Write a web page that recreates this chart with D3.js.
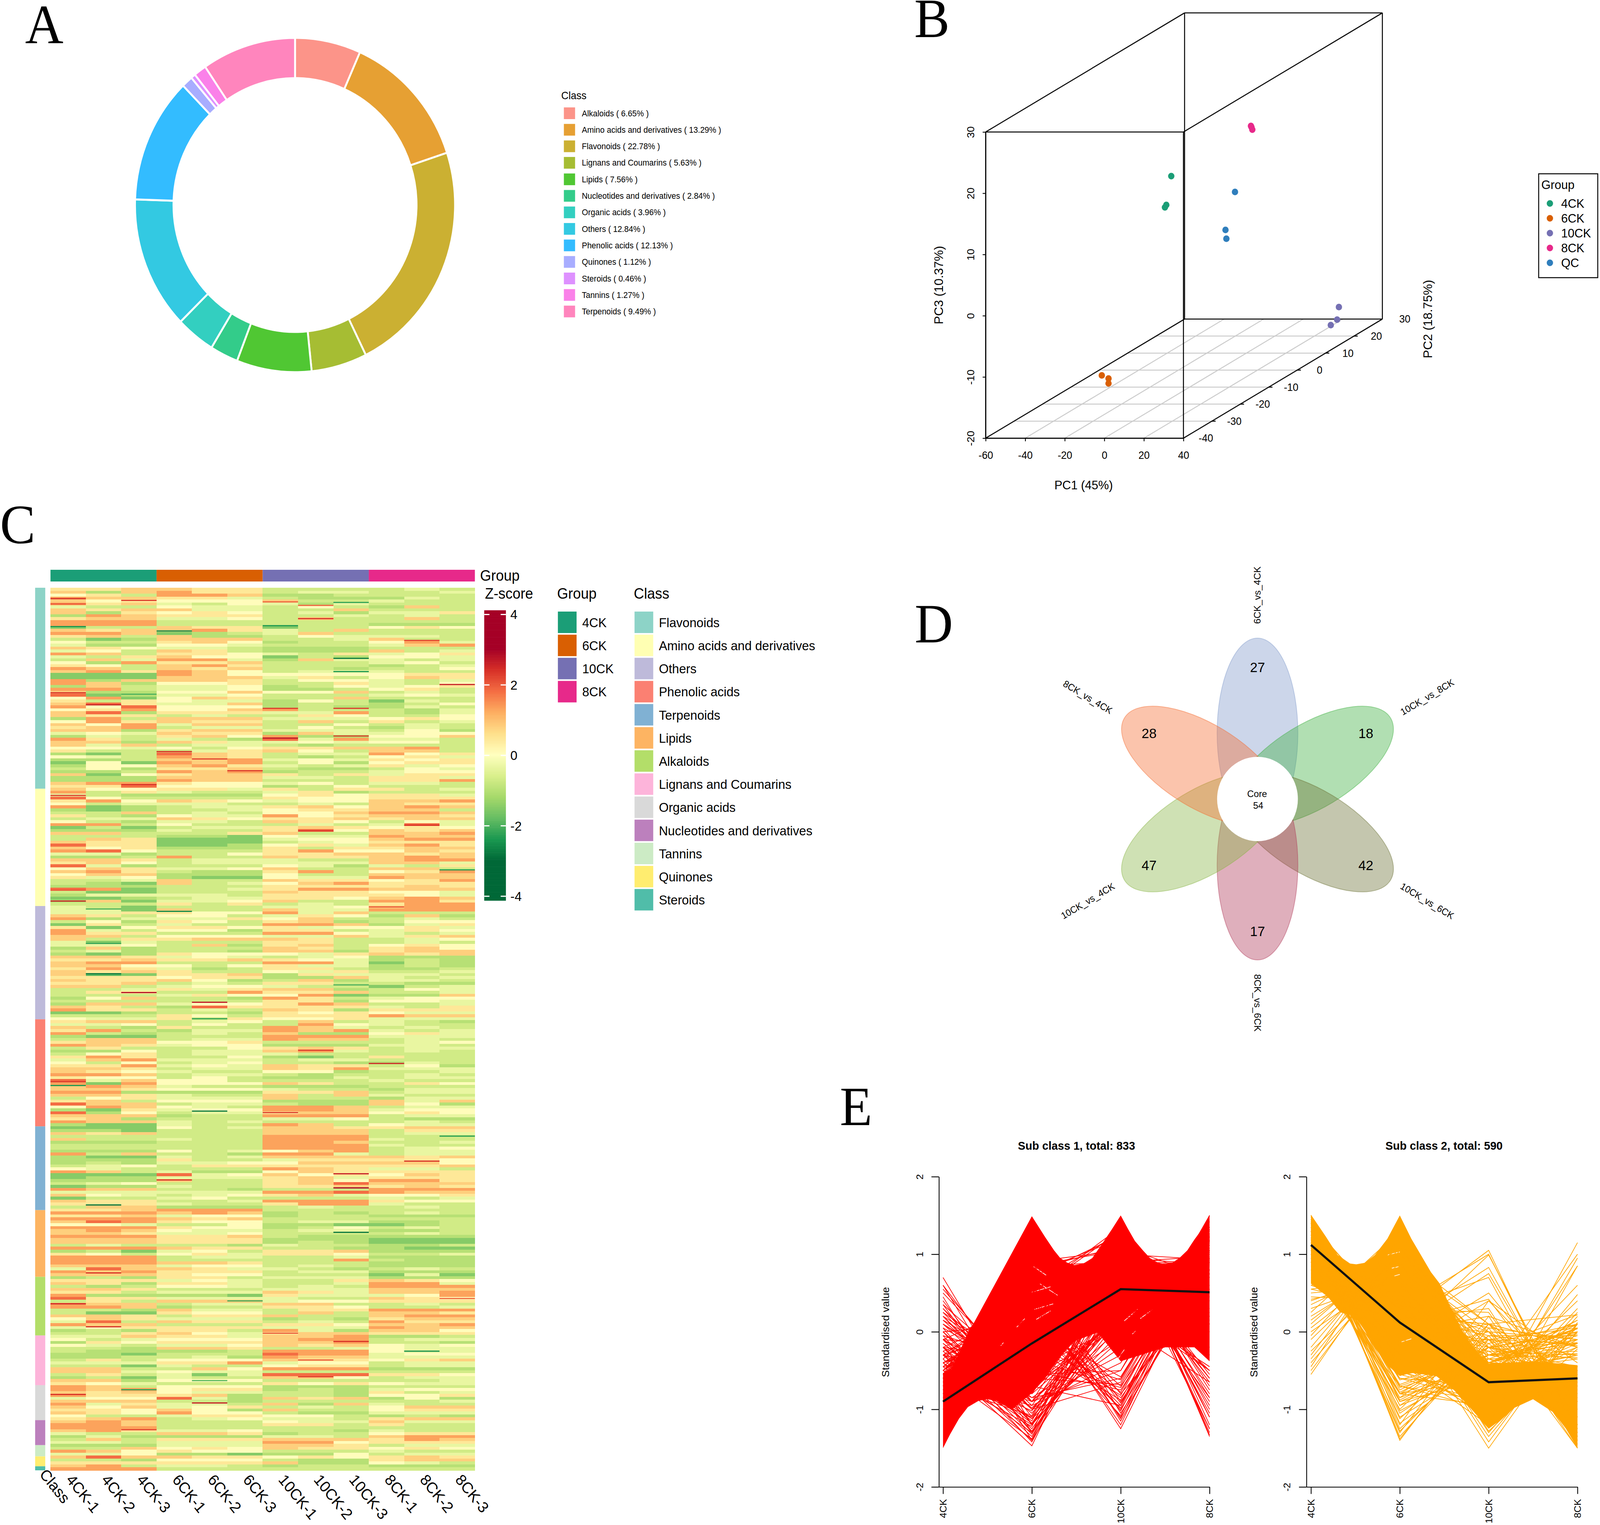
<!DOCTYPE html>
<html>
<head>
<meta charset="utf-8">
<script src="https://d3js.org/d3.v7.min.js"></script>
<style>
  html, body { margin: 0; padding: 0; background: #fff; overflow: hidden; }
  svg { display: block; width: 100vw; height: 100vh; }
  text { font-family: "Liberation Sans", Arial, sans-serif; fill: #000; }
  .panel { font-family: "Liberation Serif", serif; font-size: 142px; }
</style>
</head>
<body>
<svg id="fig" viewBox="0 0 4279 3905" preserveAspectRatio="none"></svg>
<script>
// panel A
var classNames = ["Alkaloids", "Amino acids and derivatives", "Flavonoids", "Lignans and Coumarins", "Lipids", "Nucleotides and derivatives", "Organic acids", "Others", "Phenolic acids", "Quinones", "Steroids", "Tannins", "Terpenoids"];
var classPct = [6.65, 13.29, 22.78, 5.63, 7.56, 2.84, 3.96, 12.84, 12.13, 1.12, 0.46, 1.27, 9.49];
var donutColors = ["#FC9489", "#E6A033", "#CBB032", "#A6BD33", "#50C733", "#33CC8A", "#33CFC0", "#33C9E2", "#33BCFF", "#A8ADFF", "#DE91FF", "#FA81E9", "#FF85BD"];

// panel B
var groupNames = ["4CK", "6CK", "10CK", "8CK"];
var groupColors = ["#1B9E77", "#D95F02", "#7570B3", "#E7298A"];
var pcaGroups = ["4CK", "6CK", "10CK", "8CK", "QC"];
var pcaColors = ["#1B9E77", "#D95F02", "#7570B3", "#E7298A", "#2F7EBC"];
var pcaPoints = [
  ["4CK", -38.0, 10, 8.9], ["4CK", -40.5, 10, 4.2], ["4CK", -41.2, 10, 3.8],
  ["6CK", -37.2, -15, -16.7], ["6CK", -33.8, -15, -17.2], ["6CK", -33.8, -15, -18.0],
  ["10CK", 25.2, 25, -16.65], ["10CK", 24.3, 25, -18.7], ["10CK", 21.1, 25, -19.6],
  ["8CK", -4.9, 15, 15.7], ["8CK", -4.6, 15, 15.5], ["8CK", -4.2, 15, 15.1],
  ["QC", 1.4, 5, 7.7], ["QC", -3.4, 5, 1.5], ["QC", -2.95, 5, 0.07]
];
var pc1Ticks = [-60, -40, -20, 0, 20, 40];
var pc2Ticks = [-40, -30, -20, -10, 0, 10, 20, 30];
var pc3Ticks = [-20, -10, 0, 10, 20, 30];

// panel C
var sampleNames = ["4CK-1", "4CK-2", "4CK-3", "6CK-1", "6CK-2", "6CK-3", "10CK-1", "10CK-2", "10CK-3", "8CK-1", "8CK-2", "8CK-3"];
var heatClasses = ["Flavonoids", "Amino acids and derivatives", "Others", "Phenolic acids", "Terpenoids", "Lipids", "Alkaloids", "Lignans and Coumarins", "Organic acids", "Nucleotides and derivatives", "Tannins", "Quinones", "Steroids"];
var heatClassColors = ["#8DD3C7", "#FFFFB3", "#BEBADA", "#FB8072", "#80B1D3", "#FDB462", "#B3DE69", "#FDB4DA", "#D9D9D9", "#BC80BD", "#CCEBC5", "#FFED6F", "#50BDA9"];
var zTicks = [4, 2, 0, -2, -4];
var zStops = [-3, -2.4, -1.8, -1.2, -0.6, 0, 0.6, 1.2, 1.8, 2.4, 3];
var zColors = ["#006837", "#1A9850", "#66BD63", "#A6D96A", "#D9EF8B", "#FFFFBF", "#FEE08B", "#FDAE61", "#F46D43", "#D73027", "#A50026"];
// one digit per cell, looked up in zLevels; bands
var zLevels = [-1.9, -1.5, -1.0, -0.7, -0.35, 0.05, 0.45, 0.8, 1.3, 1.8];
var heatRows = [
"667 766 333 343","727 866 344 334","563 887 223 333","877 664 322 243","756 555 733 433","867 435 424 333","433 544 353 273","767 744 337 333","726 565 342 446","287 666 334 343",
"677 445 373 373","888 333 333 333","888 333 333 222","133 766 133 565","767 786 437 333","887 123 473 333","673 722 354 443","312 777 334 733","533 675 233 584","422 554 333 478",
"765 443 222 333","453 763 222 734","873 665 436 456","436 755 132 554","374 884 274 434","528 667 333 453","653 786 333 234","873 767 332 335","786 875 344 433","111 875 555 566",
"111 777 463 576","827 776 355 434","872 556 336 435","273 445 235 456","883 445 223 563","722 557 557 343","912 445 333 454","581 576 337 333","636 544 253 143","796 447 233 235",
"859 555 232 243","568 557 833 324","792 666 448 324","766 343 365 335","283 777 444 565","586 766 373 634","758 477 335 343","678 344 353 243","772 677 444 352","454 766 274 455",
"243 675 822 557","863 432 948 443","772 764 454 553","747 344 323 333","554 535 667 783","633 346 753 773","213 976 344 856","543 876 323 564","223 778 454 656","151 878 352 566",
"255 786 434 645","352 667 322 354","223 878 233 455","715 677 636 466","222 777 443 664","222 877 333 668","788 655 453 443","669 555 235 333","755 664 636 634","836 433 462 333",
"432 222 565 664","953 333 655 666","685 765 455 778","534 443 343 766","812 344 675 787",
"212 334 566 773","337 343 557 887","632 544 856 776","344 765 667 677","532 443 765 354","883 533 343 494","131 344 676 565","222 433 695 767","773 336 733 778","333 221 544 877",
"376 111 455 788","766 111 345 666","966 112 564 786","756 222 636 677","895 333 685 576","442 335 667 767","223 833 766 787","776 344 433 788","675 344 444 774","942 333 542 436",
"576 445 733 773","786 322 683 568","577 222 533 777","645 211 544 877","334 733 766 568","321 734 578 666","222 333 666 676","981 334 688 777","311 333 766 554","244 443 666 654",
"112 344 665 787","271 445 733 886","333 636 343 688","431 333 445 788","441 733 744 888","446 655 847 333","763 553 465 272","824 446 573 343","352 653 672 355","163 433 887 246",
"615 665 645 564","843 552 663 465","866 333 885 434","773 555 447 467","736 677 763 345","414 333 663 343","445 372 673 565","272 333 763 675","342 332 772 677","212 655 546 767",
"776 454 345 222","667 667 654 232","788 333 884 132","775 535 644 232","686 423 663 223","767 633 546 334","701 667 264 443","666 566 227 434","766 752 372 443","667 343 663 322",
"773 455 433 134","334 646 772 354","366 338 667 334","333 465 581 227","257 332 863 455","333 333 662 554","277 455 687 334","763 296 666 436","866 343 762 666","112 332 656 544",
"333 653 666 877","544 636 556 444","677 345 373 432","445 353 385 433","732 633 874 343",
"683 244 878 434","832 343 722 564","211 333 888 444","377 344 877 343","677 556 333 345","876 455 222 443","363 335 676 344","225 344 784 343","356 344 433 333","686 335 213 633",
"478 444 344 333","535 345 332 243","668 454 766 352","776 344 768 444","765 433 552 334","887 344 323 343","655 353 224 344","947 553 333 433","818 555 763 365","787 433 222 333",
"776 555 433 244","882 222 667 344","776 433 737 433","356 444 733 244","673 555 222 747","977 344 322 752","587 543 887 344","216 455 887 455","925 344 677 565","777 233 888 344",
"672 333 445 322","877 434 333 343","211 433 873 544","111 534 776 677","221 333 777 366","767 333 777 344","333 333 888 333","733 433 888 433","222 333 887 334","333 333 888 433",
"333 333 888 345","222 534 578 344","837 332 884 344","211 434 777 767","222 633 466 665","232 445 577 775","345 366 666 667","543 333 876 443","873 422 576 666","111 945 756 576",
"122 444 674 666","222 733 675 886","345 333 679 777","122 433 667 676","877 332 333 888","444 444 889 877","754 345 674 556","133 453 333 434","766 334 888 655","666 433 688 433",
"377 222 343 343","667 888 333 333","888 787 232 343","667 455 233 222","888 767 333 333","798 655 344 223","554 335 221 123","888 655 235 343","787 544 344 223","776 445 333 343",
"888 667 322 222","777 666 222 111","777 666 232 111","343 332 433 223","888 766 332 211",
"231 453 667 222","653 564 665 334","888 344 334 222","888 333 338 322","888 776 333 222","777 455 343 222","497 764 432 343","878 666 344 222","777 655 333 141","232 663 444 222",
"666 454 336 765","762 664 334 884","323 554 343 888","776 333 444 777","663 444 764 778","822 221 644 458","966 444 433 765","363 777 455 666","877 344 773 343","887 233 665 334",
"332 744 366 888","311 655 373 776","776 366 733 788","576 444 232 677","493 766 343 866","877 333 665 778","456 666 444 877","232 663 842 775","336 754 677 666","447 664 778 223",
"534 555 788 344","265 666 778 332","543 445 767 545","332 776 334 544","322 223 888 544","221 333 988 455","223 342 877 444","363 555 766 567","444 668 455 344","331 433 566 344",
"773 375 888 222","774 544 333 333","363 414 999 665","231 433 775 344","772 555 333 334","654 333 656 544","873 555 222 333","878 566 232 455","767 544 332 634","866 672 332 556",
"455 942 767 252","777 332 333 334","846 443 727 433","757 456 343 577","665 752 733 566","765 855 322 444","533 466 553 232","678 345 443 677","787 333 544 744","887 333 663 633",
"888 333 333 333","786 445 332 433","433 776 233 566","242 222 443 788","373 666 777 687","443 444 885 666","222 444 776 344","337 565 766 565","875 655 333 433","445 221 225 344",
"797 766 565 676","332 555 322 677","666 666 722 543","783 443 233 222","888 333 333 333"
];
// thin dark stripes: [row position, sample number, z]
var heatStripes = [
  [3.5,1,2.4],[4.1,3,2.3],[5.3,1,2],[13,1,-2.4],[14.5,4,-2.6],[4.8,9,-2.2],[4.6,7,1.9],[5.8,8,1.9],[10.3,8,2.4],[23.8,9,-2.8],[12.7,7,-2.4],[39.6,2,2.6],[35.5,1,2.4],[36,3,-2],[40.8,7,2.3],[40.8,9,2.3],[50.9,7,2.8],[50.2,9,2.3],[66.7,3,2.4],[62,6,2.3],[70.4,1,2.3],[55.5,4,2.4],[58,5,2.2],[28.3,9,-2.4],[32.7,12,2.6],[17.7,11,2.2],
  [80.5,11,2.4],[82.4,8,2.3],[102.6,1,2],[106.3,1,2.6],[95.7,12,-2.3],[109,2,-2],[109.8,4,-2.6],[120.7,2,-2.2],[131,2,-2.8],[134.8,9,-2],[140.7,5,2.7],[146.3,5,-2.2],[137.4,3,2.8],[108.3,10,2],
  [203.8,9,3],[199,9,2.6],[201.1,4,2.4],[218.9,9,-2.8],[167.7,1,2.3],[169,1,-2.4],[177.7,5,-2.8],[209.6,2,-2.8],[186.2,12,-2.3],[178.2,7,2.3],[157,8,2.3],[194.7,11,2.4],[161.5,10,2.5],
  [232.7,2,2.4],[243.2,1,2.5],[251,2,2.4],[272.4,3,-2.2],[274,1,2.4],[269.3,5,-1.9],[268,8,2.2],[262.3,8,2],[253.2,7,2],[256,9,2.4],[276.9,5,2.6],[241.4,12,1.9],[286,3,2.2],[259.3,11,-2.5],[242.2,6,-2.1]
];

// panel D
var vennNames = ["6CK_vs_4CK", "10CK_vs_8CK", "10CK_vs_6CK", "8CK_vs_6CK", "10CK_vs_4CK", "8CK_vs_4CK"];
var vennCounts = [27, 18, 42, 17, 47, 28];
var vennColors = ["#7F98CA", "#3CAF3E", "#6B7034", "#AF3757", "#87B443", "#F56B2F"];
var vennCore = 54;

var trendGroups = ["4CK", "6CK", "10CK", "8CK"];
var sub1Mean = [-0.9, -0.15, 0.55, 0.51];
var sub2Mean = [1.12, 0.12, -0.65, -0.6];
var sub1Upper = [[0, -0.53], [0.09, -0.49], [0.18, -0.27], [0.3, 0.04], [0.34, 0.1], [1, 1.49], [1.15, 1.22], [1.25, 1.05], [1.32, 0.95], [1.4, 0.89], [1.48, 0.86], [1.58, 0.88], [1.68, 0.95], [1.8, 1.15], [1.9, 1.32], [2, 1.5], [2.08, 1.33], [2.16, 1.17], [2.25, 1.05], [2.33, 0.95], [2.42, 0.89], [2.5, 0.87], [2.58, 0.89], [2.66, 0.95], [2.75, 1.05], [2.83, 1.19], [2.92, 1.33], [3, 1.5]];
var sub1Lower = [[0, -1.5], [0.08, -1.32], [0.18, -1.12], [0.28, -0.97], [0.4, -0.89], [0.5, -0.87], [0.6, -0.89], [0.7, -0.95], [0.77, -1.01], [1, -0.79], [1.15, -0.6], [1.3, -0.35], [1.48, -0.12], [1.74, -0.01], [2, -0.38], [2.5, -0.2], [2.83, -0.2], [3, -0.38]];
var sub2Upper = [[0, 1.51], [0.166, 1.23], [0.3, 0.99], [0.44, 0.88], [0.51, 0.87], [0.61, 0.89], [0.72, 0.99], [0.86, 1.2], [1, 1.5], [1.13, 1.2], [1.35, 0.77], [1.45, 0.62], [1.57, 0.32], [1.69, 0.04], [1.85, -0.24], [2, -0.41], [2.51, -0.38], [3, -0.43]];
var sub2Lower = [[0, 0.62], [0.19, 0.45], [0.33, 0.25], [0.47, 0.21], [0.69, -0.16], [0.86, -0.43], [1, -0.57], [1.13, -0.53], [1.41, -0.57], [1.6, -0.74], [1.8, -0.99], [2, -1.25], [2.13, -1.14], [2.27, -0.99], [2.5, -0.87], [2.73, -1.04], [2.87, -1.25], [3, -1.5]];
// white gaps inside the solid mass: [from position, from value, to position, to value]
var sub1Gaps = [[1.02, 0.84, 1.16, 0.73], [1, 0.51, 1.21, 0.58], [1.03, 0.29, 1.24, 0.36], [1.05, 0.16, 1.21, 0.27], [1.09, 0.62, 1.29, 0.47], [0.65, -0.18, 0.68, -0.14], [0.83, 0.06, 0.92, 0.17], [2.04, 0.14, 2.19, 0.29], [2.22, 0.17, 2.36, 0.29], [2.13, -0.03, 2.17, 0.01], [1.95, -0.38, 2.04, -0.23]];
var sub2Gaps = [[0.64, -0.13, 0.86, -0.5], [0.94, 0.72, 1, 0.74], [0.86, 0.99, 1, 1.03], [0.91, 0.82, 0.99, 0.84], [1.02, -0.13, 1.13, -0.09], [0.52, 0.15, 0.68, -0.12]];
var sub1Lines = [
  [-0.4, -1.47, 0.9, 0.97], [-0.2, -1.42, 0.7, 0.92], [-0.3, -1.35, 0.6, 1.05], [-0.5, -1.3, 1.1, 0.7], [-0.1, -1.25, 0.4, 0.95], [-0.45, -1.2, 0.8, 0.85], [-0.25, -1.15, 0.95, 0.45], [-0.6, -1.1, 0.75, 0.95], [0.05, -1.3, 0.2, 1.05], [-0.15, -1.05, 0.3, 0.9], [0.35, -1.2, 0.1, 0.75], [0.2, -1.0, -0.2, 1.0], [0.1, -0.95, -0.4, 1.25],
  [-0.35, -1.4, 0.85, 0.9], [-0.55, -1.38, 1.0, 0.93], [-0.2, -1.32, 0.5, 1.0], [-0.05, -1.28, 0.3, 1.03], [-0.6, -1.22, 0.95, 0.87], [-0.3, -1.18, 0.55, 0.93], [-0.4, -1.12, 0.35, 1.17], [-0.7, -1.08, 0.9, 0.88], [-0.5, -1.02, 0.5, 1.02], [-0.15, -0.98, 0.05, 1.08], [-0.65, -0.95, 0.65, 0.95], [0.25, -0.9, -0.3, 0.95], [-0.3, -0.85, -0.1, 1.25], [-0.5, -0.9, 0.15, 1.25], [-0.2, -1.12, -0.1, 1.42], [0.0, -1.18, 0.0, 1.18],
  [-0.3, 0.5, -1.25, 1.05], [-0.5, 0.7, -1.15, 0.95], [-0.1, 0.4, -1.1, 0.8], [-0.6, 0.9, -1.05, 0.75], [-0.2, 0.3, -1.0, 0.9], [-0.4, 0.2, -0.95, 1.15], [-0.7, 0.8, -0.9, 0.8], [0.0, 0.1, -0.85, 0.75], [-0.35, 0.6, -0.8, 0.55], [-0.5, 0.3, -0.7, 0.9], [0.2, -0.5, -0.75, 1.05], [0.1, -0.7, -0.95, 1.5], [0.15, -0.85, -0.6, 1.3], [-0.1, -0.9, -0.5, 1.5], [0.3, -1.0, -0.65, 1.35],
  [-0.45, 0.45, -1.2, 1.2], [-0.65, 0.6, -1.12, 1.17], [-0.25, 0.15, -1.08, 1.18], [-0.55, 0.35, -1.02, 1.22], [-0.3, 0.05, -0.98, 1.23], [-0.75, 0.55, -0.92, 1.12], [-0.1, -0.2, -0.88, 1.18], [-0.4, -0.1, -0.82, 1.32], [-0.6, 0.15, -0.78, 1.23], [-0.2, -0.35, -0.72, 1.27], [0.05, -0.6, -0.68, 1.23], [-0.45, -0.25, -0.62, 1.32], [-0.7, 0.05, -0.58, 1.23], [-0.3, -0.55, -0.5, 1.35],
  [-0.5, 0.5, 1.35, -1.35], [-0.65, 0.7, 1.25, -1.3], [-0.7, 0.9, 1.05, -1.25], [-0.6, 0.5, 1.3, -1.2], [-0.8, 0.8, 1.1, -1.1], [-0.4, 0.3, 1.1, -1.0], [-0.75, 0.65, 1.0, -0.85], [-0.9, 0.85, 0.9, -0.8], [-0.6, 0.3, 1.0, -0.7], [-0.3, 0.1, 0.8, -0.6], [-0.7, 0.9, 0.3, -0.5], [-0.55, 1.1, 0.1, -0.65], [-1.0, 0.9, 0.6, -0.5],
  [-0.55, 0.6, 1.28, -1.33], [-0.7, 0.75, 1.2, -1.25], [-0.5, 0.4, 1.2, -1.1], [-0.85, 0.85, 1.05, -1.05], [-0.45, 0.45, 0.95, -0.95], [-0.6, 0.6, 0.9, -0.9], [-0.75, 0.9, 0.7, -0.85], [-0.5, 0.2, 1.05, -0.75], [-0.8, 0.6, 0.85, -0.65], [-0.4, 0.05, 0.9, -0.55], [-0.9, 1.0, 0.4, -0.5], [-0.6, 0.75, 0.3, -0.45],
  [0.7, -1.2, 0.3, 0.2], [0.6, -1.3, 0.5, 0.2], [0.6, -0.9, 0.9, -0.6], [0.5, -0.7, 0.1, 0.1], [0.4, -1.1, 0.2, 0.5], [0.3, -0.8, 0.2, 0.3], [0.2, -0.9, 0.3, 0.4], [0.1, -0.6, 0.4, 0.1], [0.0, -1.0, 0.3, 0.7], [-0.1, -0.7, 0.2, 0.6], [-0.2, -0.8, 0.9, 0.1], [-0.3, -0.6, 0.1, 0.8], [0.45, -1.4, 0.4, 0.55], [0.55, -0.75, 0.2, 0.0], [0.25, -0.55, 0.6, -0.3], [-0.05, -0.4, 0.3, 0.15], [0.15, -0.5, 0.1, 0.25], [0.35, -0.65, 0.5, -0.2]
];
var sub2Lines = [
  [-0.55, 1.1, -0.3, -0.25], [-0.45, 1.3, -0.5, -0.35], [-0.4, 0.9, 0.1, -0.6], [-0.3, 1.2, -0.4, -0.5], [-0.1, 1.0, -0.2, -0.7], [0.0, 0.8, -0.1, -0.7], [0.1, 1.1, -0.6, -0.6], [0.2, 0.9, -0.5, -0.6], [0.3, 0.7, -0.4, -0.6], [0.35, 0.9, -0.8, -0.45], [0.5, 0.6, -0.5, -0.6], [0.45, 0.4, -0.4, -0.45], [0.6, 0.2, -0.3, -0.5], [0.55, 0.7, -0.7, -0.55], [0.25, 1.3, -0.8, -0.75], [-0.5, 1.0, 0.1, -0.6],
  [-0.2, 1.15, -0.35, -0.6], [-0.35, 1.05, -0.2, -0.5], [-0.05, 1.2, -0.6, -0.55], [0.15, 1.0, -0.55, -0.6], [0.05, 0.95, -0.4, -0.6], [0.4, 0.8, -0.6, -0.6], [0.42, 0.65, -0.55, -0.52], [0.65, 0.5, -0.6, -0.55], [0.7, 0.35, -0.55, -0.5], [0.55, 0.3, -0.4, -0.45], [0.75, 0.65, -0.75, -0.65], [0.6, 0.9, -0.8, -0.7], [-0.25, 0.85, 0.0, -0.6],
  [1.5, -1.4, 0.1, -0.2], [1.4, -1.35, -0.1, 0.05], [1.3, -1.3, 0.2, -0.2], [1.45, -1.25, -0.2, 0.0], [1.2, -1.2, 0.4, -0.4], [1.35, -1.1, -0.4, 0.15], [1.25, -1.05, -0.3, 0.1], [1.1, -1.0, 0.1, -0.2], [1.3, -0.95, -0.5, 0.15], [1.45, -0.9, -0.4, -0.15], [1.2, -0.85, -0.4, 0.05], [1.05, -0.8, -0.1, -0.15], [1.15, -0.7, -0.3, -0.15], [1.3, -0.75, -0.2, -0.35],
  [1.42, -1.38, 0.05, -0.1], [1.33, -1.28, -0.15, 0.1], [1.48, -1.18, -0.35, 0.05], [1.22, -1.12, -0.05, -0.05], [1.38, -1.02, -0.4, 0.04], [1.18, -0.95, -0.2, -0.03], [1.28, -0.88, -0.3, -0.1], [1.08, -0.85, -0.05, -0.18], [1.12, -0.78, -0.2, -0.14], [1.35, -0.72, -0.35, -0.28], [1.22, -0.68, -0.25, -0.3], [1.25, -0.62, -0.3, -0.33],
  [1.1, 0.3, -1.5, 0.1], [0.9, 0.4, -1.42, 0.12], [1.0, 0.35, -1.35, 0.0], [0.8, 0.5, -1.3, 0.0], [1.05, 0.45, -1.28, -0.22],
  [1.1, 0.2, 1.05, -1.35], [1.0, 0.3, 1.0, -1.3], [1.2, -0.1, 0.99, -1.2], [1.15, 0.1, 0.83, -1.25], [1.2, 0.0, 0.75, -1.2], [0.95, 0.3, 0.7, -1.4], [1.25, -0.2, 0.5, -0.9], [1.2, 0.1, 0.42, -1.1], [1.3, -0.3, 0.4, -0.8], [1.2, 0.3, 0.25, -1.3], [1.1, 0.2, 0.1, -1.2], [1.25, -0.1, 0.1, -0.9], [1.3, 0.0, -0.1, -1.1], [1.1, 0.4, 0.0, -1.4], [1.0, 0.5, -0.1, -1.35], [1.2, 0.1, 0.0, -1.0],
  [1.0, 0.15, 0.3, -1.45], [1.2, 0.2, -0.05, -1.35], [1.05, 0.4, -0.2, -1.25], [1.1, 0.35, 0.05, -1.5], [1.3, 0.0, 0.2, -1.5], [1.15, 0.1, -0.15, -1.1],
  [0.9, -0.8, -0.95, 1.15], [1.0, -0.9, -0.6, 1.0], [0.8, -0.7, -1.0, 0.95], [0.9, -0.4, -1.2, 0.85], [1.2, -0.6, -0.9, 0.85], [1.1, -0.8, -0.6, 0.6], [0.95, -0.5, -0.9, 0.48], [1.3, -0.7, -0.9, 0.3], [1.3, -0.5, -1.0, 0.25], [1.35, -0.4, -1.1, 0.2], [1.4, -0.3, -1.15, 0.1], [1.4, -0.6, -0.7, -0.1], [1.3, -0.8, -0.4, -0.1], [1.25, -0.3, -0.6, -0.2], [1.1, -0.55, -0.4, 0.0], [1.2, -0.45, -0.5, 0.1], [1.3, -0.2, -0.8, -0.2], [1.05, 0.1, -0.3, 0.1], [0.9, 0.4, -0.2, 0.22], [0.85, 0.2, 0.1, 0.22], [1.4, 0.1, -0.3, -0.15], [1.35, 0.2, -0.5, -0.3], [1.15, -0.2, -0.1, -0.3], [1.0, 0.0, -0.2, -0.45], [1.25, 0.25, -0.4, -0.05], [0.95, -0.3, 0.0, -0.1],
  [0.9, -0.6, -0.7, 0.4], [1.35, -0.55, -0.85, 0.05], [1.2, -0.4, -0.8, 0.0], [1.15, -0.35, -0.65, -0.15], [1.05, -0.2, -0.55, -0.3], [1.25, -0.15, -0.45, -0.65], [1.3, -0.1, -0.35, -0.85], [1.1, 0.05, -0.25, -0.9]
];

var svg = d3.select("#fig");

svg.selectAll(".panel")
  .data([["A", 67, 110], ["B", 2445, 95], ["C", 0, 1391], ["D", 2446, 1645], ["E", 2246, 2881]])
  .enter().append("text")
    .attr("class", "panel")
    .attr("x", function(d) { return d[1]; })
    .attr("y", function(d) { return d[2]; })
    .text(function(d) { return d[0]; });

function styleAxis(g, size) {
  g.selectAll("text").style("font-size", size + "px").style("font-family", "Liberation Sans").attr("fill", "#000");
  g.selectAll("line").attr("stroke", "#000").attr("stroke-width", 2.2);
  g.select(".domain").attr("stroke", "#000").attr("stroke-width", 2.2);
}

// ---- A: donut
var pie = d3.pie().sort(null).value(function(d) { return d; });
var arc = d3.arc().innerRadius(325).outerRadius(428);
var gA = svg.append("g").attr("transform", "translate(789,525)");
gA.selectAll("path")
  .data(pie(classPct))
  .enter().append("path")
    .attr("d", arc)
    .attr("fill", function(d, i) { return donutColors[i]; })
    .attr("stroke", "#fff")
    .attr("stroke-width", 5);

var legA = d3.scaleBand().domain(classNames).range([275, 275 + 42.3 * 13]);
svg.append("text").attr("x", 1501).attr("y", 254).style("font-size", "27px").text("Class");
svg.selectAll(".legA")
  .data(classNames)
  .enter().append("rect")
    .attr("x", 1508)
    .attr("y", function(d) { return legA(d); })
    .attr("width", 30)
    .attr("height", 30)
    .attr("fill", function(d, i) { return donutColors[i]; });
svg.selectAll(".legAtext")
  .data(classNames)
  .enter().append("text")
    .attr("x", 1556)
    .attr("y", function(d) { return legA(d) + 15; })
    .attr("dy", "0.35em")
    .style("font-size", "21.5px")
    .text(function(d, i) { return d + " ( " + classPct[i] + "% )"; });

// ---- B: 3D scatter
var x3 = d3.scaleLinear().domain([-60, 40]).range([2636, 3165]),
    z3 = d3.scaleLinear().domain([-20, 30]).range([1122, 338]),
    depthX = d3.scaleLinear().domain([-40, 30]).range([0, 532]),
    depthY = d3.scaleLinear().domain([-40, 30]).range([0, -305]);
function px(a, b) { return x3(a) + depthX(b); }
function py(b, c) { return z3(c) + depthY(b); }

var gB = svg.append("g");
function seg(g, a, b, color, w) {
  g.append("line")
    .attr("x1", px(a[0], a[1])).attr("y1", py(a[1], a[2]))
    .attr("x2", px(b[0], b[1])).attr("y2", py(b[1], b[2]))
    .attr("stroke", color).attr("stroke-width", w);
}
pc1Ticks.slice(1, -1).forEach(function(t) { seg(gB, [t, -40, -20], [t, 30, -20], "#CCCCCC", 2.5); });
pc2Ticks.slice(1, -1).forEach(function(t) { seg(gB, [-60, t, -20], [40, t, -20], "#CCCCCC", 2.5); });
[
  [[-60, -40, 30], [40, -40, 30]], [[-60, -40, 30], [-60, 30, 30]], [[40, -40, 30], [40, 30, 30]], [[-60, 30, 30], [40, 30, 30]],
  [[-60, -40, -20], [-60, -40, 30]], [[40, -40, -20], [40, -40, 30]], [[-60, 30, -20], [-60, 30, 30]], [[40, 30, -20], [40, 30, 30]],
  [[-60, 30, -20], [40, 30, -20]], [[-60, -40, -20], [-60, 30, -20]], [[40, -40, -20], [40, 30, -20]], [[-60, -40, -20], [40, -40, -20]]
].forEach(function(e) { seg(gB, e[0], e[1], "#000", 2.6); });

var pcaColor = d3.scaleOrdinal().domain(pcaGroups).range(pcaColors);
gB.selectAll("circle")
  .data(pcaPoints)
  .enter().append("circle")
    .attr("cx", function(d) { return px(d[1], d[2]); })
    .attr("cy", function(d) { return py(d[2], d[3]); })
    .attr("r", 8.5)
    .attr("fill", function(d) { return pcaColor(d[0]); });

var xAxisB = gB.append("g")
    .attr("transform", "translate(0,1122)")
    .call(d3.axisBottom(x3).tickValues(pc1Ticks).tickSize(8).tickPadding(26).tickSizeOuter(0).tickFormat(String));
styleAxis(xAxisB, 27);
var zAxisB = gB.append("g")
    .attr("transform", "translate(2636,0)")
    .call(d3.axisLeft(z3).tickValues(pc3Ticks).tickSize(8).tickSizeOuter(0).tickFormat(String));
styleAxis(zAxisB, 27);
zAxisB.selectAll("text")
    .attr("transform", "rotate(-90)")
    .attr("x", 0).attr("y", -31).attr("dy", 0)
    .style("text-anchor", "middle");

gB.selectAll(".tickY")
  .data(pc2Ticks.slice(1, -1))
  .enter().append("line")
    .attr("x1", function(d) { return px(40, d); })
    .attr("x2", function(d) { return px(40, d) + 10; })
    .attr("y1", function(d) { return py(d, -20); })
    .attr("y2", function(d) { return py(d, -20); })
    .attr("stroke", "#000").attr("stroke-width", 2.5);
gB.selectAll(".labelY")
  .data(pc2Ticks)
  .enter().append("text")
    .attr("x", function(d) { return px(40, d) + 60; })
    .attr("y", function(d) { return py(d, -20); })
    .attr("dy", "0.35em")
    .style("font-size", "27px")
    .style("text-anchor", "middle")
    .text(function(d) { return d; });

gB.append("text").attr("x", 2898).attr("y", 1253).style("font-size", "32px").style("text-anchor", "middle").text("PC1 (45%)");
gB.append("text").attr("transform", "translate(2522,730) rotate(-90)").style("font-size", "32px").style("text-anchor", "middle").text("PC3 (10.37%)");
gB.append("text").attr("transform", "translate(3830,817) rotate(-90)").style("font-size", "32px").style("text-anchor", "middle").text("PC2 (18.75%)");

gB.append("rect").attr("x", 4115).attr("y", 445).attr("width", 158).attr("height", 266).attr("fill", "none").attr("stroke", "#000").attr("stroke-width", 2.5);
gB.append("text").attr("x", 4122).attr("y", 484).style("font-size", "32px").text("Group");
var legB = d3.scalePoint().domain(pcaGroups).range([521, 673]);
gB.selectAll(".legBdot")
  .data(pcaGroups)
  .enter().append("circle")
    .attr("cx", 4145)
    .attr("cy", function(d) { return legB(d); })
    .attr("r", 8.5)
    .attr("fill", function(d) { return pcaColor(d); });
gB.selectAll(".legBtext")
  .data(pcaGroups)
  .enter().append("text")
    .attr("x", 4175)
    .attr("y", function(d) { return legB(d); })
    .attr("dy", "0.35em")
    .style("font-size", "32px")
    .text(function(d) { return d; });

// ---- C: heatmap
var heatTop = 1505, heatBottom = 3765;
var zColor = d3.scaleLinear().domain(zStops).range(zColors).clamp(true);
var heatX = d3.scaleBand().domain(sampleNames).range([135, 1270]);
var heatY = d3.scaleBand().domain(d3.range(heatRows.length)).range([heatTop, heatBottom]);
var stripeY = d3.scaleLinear().domain([0, heatRows.length]).range([heatTop, heatBottom]);
var gC = svg.append("g");
var cells = [];
heatRows.forEach(function(row, r) {
  row.replace(/ /g, "").split("").forEach(function(ch, c) {
    cells.push({row: r, sample: sampleNames[c], z: zLevels[+ch]});
  });
});
gC.selectAll(".cell")
  .data(cells)
  .enter().append("rect")
    .attr("x", function(d) { return heatX(d.sample); })
    .attr("y", function(d) { return heatY(d.row); })
    .attr("width", heatX.bandwidth())
    .attr("height", heatY.bandwidth() + 0.5)
    .attr("fill", function(d) { return zColor(d.z); })
    .attr("shape-rendering", "crispEdges");
gC.selectAll(".stripe")
  .data(heatStripes)
  .enter().append("rect")
    .attr("x", function(d) { return heatX(sampleNames[d[1] - 1]); })
    .attr("y", function(d) { return stripeY(d[0]); })
    .attr("width", heatX.bandwidth())
    .attr("height", 3)
    .attr("fill", function(d) { return zColor(d[2]); });

var groupBar = d3.scaleBand().domain(groupNames).range([135, 1270]);
gC.selectAll(".groupBar")
  .data(groupNames)
  .enter().append("rect")
    .attr("x", function(d) { return groupBar(d); })
    .attr("y", 1459)
    .attr("width", groupBar.bandwidth())
    .attr("height", 30)
    .attr("fill", function(d, i) { return groupColors[i]; });
gC.append("text").attr("x", 1284).attr("y", 1474).attr("dy", "0.35em").style("font-size", "38px").text("Group");

var heatPct = heatClasses.map(function(c) { return classPct[classNames.indexOf(c)]; });
var pctCum = Array.from(d3.cumsum(heatPct));
var classY = d3.scaleLinear().domain([0, d3.sum(heatPct)]).range([heatTop, heatBottom]);
gC.selectAll(".classBar")
  .data(heatClasses)
  .enter().append("rect")
    .attr("x", 94)
    .attr("y", function(d, i) { return classY(i ? pctCum[i - 1] : 0); })
    .attr("width", 27)
    .attr("height", function(d, i) { return classY(pctCum[i]) - classY(i ? pctCum[i - 1] : 0); })
    .attr("fill", function(d, i) { return heatClassColors[i]; });

gC.selectAll(".sampleLabel")
  .data(["Class"].concat(sampleNames))
  .enter().append("text")
    .attr("transform", function(d) {
      var x = d === "Class" ? 104 : heatX(d) + heatX.bandwidth() / 2 - 7;
      return "translate(" + x + "," + (d === "Class" ? 3776 : 3790) + ") rotate(50)";
    })
    .style("font-size", "40px")
    .text(function(d) { return d; });

// colour bar
var zBar = d3.scaleLinear().domain([-4, 4]).range([2295, 1573.5]);
gC.selectAll(".zStep")
  .data(d3.range(-4.12, 4.12, 0.04))
  .enter().append("rect")
    .attr("x", 1295)
    .attr("y", function(d) { return zBar(d + 0.04); })
    .attr("width", 58)
    .attr("height", zBar(0) - zBar(0.04) + 0.6)
    .attr("fill", function(d) { return zColor(d); });
gC.selectAll(".zTickL")
  .data(zTicks)
  .enter().append("line")
    .attr("x1", 1295).attr("x2", 1309)
    .attr("y1", function(d) { return zBar(d); })
    .attr("y2", function(d) { return zBar(d); })
    .attr("stroke", "#fff").attr("stroke-width", 3);
gC.selectAll(".zTickR")
  .data(zTicks)
  .enter().append("line")
    .attr("x1", 1339).attr("x2", 1353)
    .attr("y1", function(d) { return zBar(d); })
    .attr("y2", function(d) { return zBar(d); })
    .attr("stroke", "#fff").attr("stroke-width", 3);
gC.selectAll(".zLabel")
  .data(zTicks)
  .enter().append("text")
    .attr("x", 1365)
    .attr("y", function(d) { return zBar(d); })
    .attr("dy", "0.35em")
    .style("font-size", "34px")
    .text(function(d) { return d; });

[["Z-score", 1297], ["Group", 1490], ["Class", 1695]].forEach(function(t) {
  gC.append("text").attr("x", t[1]).attr("y", 1520).attr("dy", "0.35em").style("font-size", "38px").text(t[0]);
});
function heatLegend(names, colors, x) {
  var g = gC.append("g");
  g.selectAll("rect")
    .data(names)
    .enter().append("rect")
      .attr("x", x)
      .attr("y", function(d, i) { return 1566 + i * 59.2; })
      .attr("width", 50)
      .attr("height", 55)
      .attr("fill", function(d, i) { return colors[i]; });
  g.selectAll("text")
    .data(names)
    .enter().append("text")
      .attr("x", x + 65)
      .attr("y", function(d, i) { return 1594 + i * 59.2; })
      .attr("dy", "0.35em")
      .style("font-size", "33.6px")
      .text(function(d) { return d; });
}
heatLegend(groupNames, groupColors, 1492);
heatLegend(heatClasses, heatClassColors, 1697);

// ---- D: flower venn
var gD = svg.append("g").attr("transform", "translate(3363,2046)");
gD.selectAll("ellipse")
  .data(vennNames)
  .enter().append("ellipse")
    .attr("cx", 0)
    .attr("cy", -169)
    .attr("rx", 108)
    .attr("ry", 243)
    .attr("transform", function(d, i) { return "rotate(" + i * 60 + ")"; })
    .attr("fill", function(d, i) { return vennColors[i]; })
    .attr("fill-opacity", 0.4)
    .attr("stroke", function(d, i) { return vennColors[i]; })
    .attr("stroke-opacity", 0.45)
    .attr("stroke-width", 2);
gD.append("circle").attr("r", 108).attr("fill", "#fff");
gD.selectAll(".count")
  .data(vennCounts)
  .enter().append("text")
    .attr("x", function(d, i) { return 338 * Math.sin(i * Math.PI / 3) * 0.99; })
    .attr("y", function(d, i) { return -338 * Math.cos(i * Math.PI / 3); })
    .attr("dy", "0.35em")
    .style("font-size", "36px")
    .style("text-anchor", "middle")
    .text(function(d) { return d; });
gD.append("text").attr("x", -1).attr("y", -14).attr("dy", "0.35em").style("font-size", "24.5px").style("text-anchor", "middle").text("Core");
gD.append("text").attr("x", 2).attr("y", 16).attr("dy", "0.35em").style("font-size", "24.5px").style("text-anchor", "middle").text(vennCore);
gD.selectAll(".vennName")
  .data(vennNames)
  .enter().append("text")
    .attr("transform", function(d, i) {
      var a = i * Math.PI / 3;
      var rot = [-90, -30, 30, 90, -30, 30][i];
      return "translate(" + (524 * Math.sin(a)) + "," + (-522 * Math.cos(a)) + ") rotate(" + rot + ")";
    })
    .attr("dy", "0.35em")
    .style("font-size", "24.5px")
    .style("text-anchor", "middle")
    .text(function(d) { return d; });

// ---- E: trend panels
function trendPanel(left, tickStart, title, titleX, yLabelX, tickLabelX, color, upper, lower, gaps, lines, mean) {
  var x = d3.scaleLinear().domain([(left - tickStart) / 237.6, 3]).range([left, tickStart + 237.6 * 3]);
  var y = d3.scaleLinear().domain([-2, 2]).range([3807.5, 3013]);
  var g = svg.append("g");
  var line = d3.line().x(function(d, i) { return x(i); }).y(function(d) { return y(d); });

  var band = upper.concat(lower.slice().reverse());
  g.append("path")
    .attr("d", d3.line().x(function(d) { return x(d[0]); }).y(function(d) { return y(d[1]); })(band) + "Z")
    .attr("fill", color);
  g.selectAll(".gap")
    .data(gaps)
    .enter().append("line")
      .attr("x1", function(d) { return x(d[0]); })
      .attr("y1", function(d) { return y(d[1]); })
      .attr("x2", function(d) { return x(d[2]); })
      .attr("y2", function(d) { return y(d[3]); })
      .attr("stroke", "#fff")
      .attr("stroke-width", 1.6);
  g.selectAll(".strand")
    .data(lines)
    .enter().append("path")
      .attr("d", line)
      .attr("fill", "none")
      .attr("stroke", color)
      .attr("stroke-width", 1.8);
  g.append("path")
    .attr("d", line(mean))
    .attr("fill", "none")
    .attr("stroke", "#111")
    .attr("stroke-width", 5.5);

  var ax = g.append("g")
      .attr("transform", "translate(0,3807.5)")
      .call(d3.axisBottom(x).tickValues([0, 1, 2, 3]).tickSize(18).tickSizeOuter(0).tickFormat(function(d) { return trendGroups[d]; }));
  styleAxis(ax, 25);
  ax.selectAll("text")
      .attr("transform", "rotate(-90)")
      .attr("x", -31).attr("y", 0).attr("dy", "0.35em")
      .style("text-anchor", "end");
  var ay = g.append("g")
      .attr("transform", "translate(" + left + ",0)")
      .call(d3.axisLeft(y).tickValues([-2, -1, 0, 1, 2]).tickSize(20).tickSizeOuter(0).tickFormat(String));
  styleAxis(ay, 25);
  ay.selectAll("text")
      .attr("transform", "rotate(-90)")
      .attr("x", 0).attr("y", tickLabelX - left).attr("dy", 0)
      .style("text-anchor", "middle");

  g.append("text").attr("x", titleX).attr("y", 2944).style("font-size", "30px").style("font-weight", "bold").style("text-anchor", "middle").text(title);
  g.append("text").attr("transform", "translate(" + yLabelX + ",3411) rotate(-90)").style("font-size", "27px").style("text-anchor", "middle").text("Standardised value");
}
trendPanel(2511, 2522, "Sub class 1, total: 833", 2879, 2378, 2469, "#FF0000", sub1Upper, sub1Lower, sub1Gaps, sub1Lines, sub1Mean);
trendPanel(3494, 3506, "Sub class 2, total: 590", 3862, 3363, 3451, "#FFA500", sub2Upper, sub2Lower, sub2Gaps, sub2Lines, sub2Mean);
</script>
</body>
</html>
